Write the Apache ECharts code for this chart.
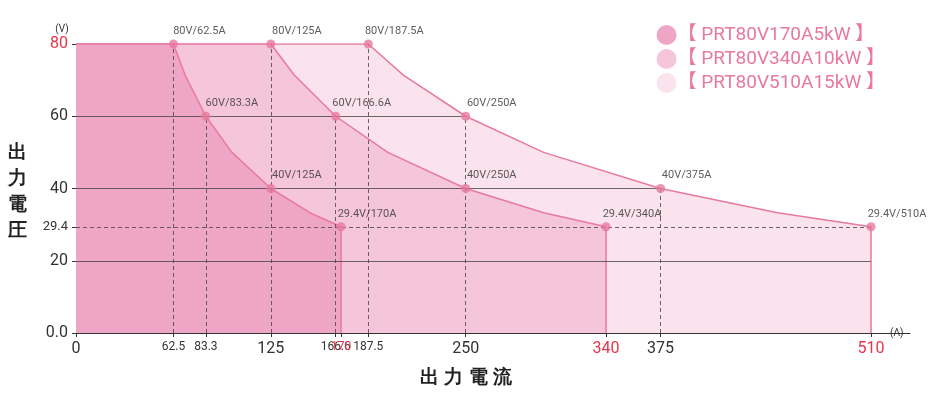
<!DOCTYPE html>
<html>
<meta charset="utf-8" />
<head>
  <script src="https://cdn.jsdelivr.net/npm/echarts@6/dist/echarts.min.js"></script>
  <style>
    body { margin: 0; background: #fff; }
    .chart { width: 940px; height: 400px; }
  </style>
</head>
<body>
  <div class="chart" id="chart"></div>
  <script>
    // envelope of each model: [current A, voltage V]
    const curve5kW = [[0, 80], [62.5, 80], [70, 71.4], [83.3, 60], [100, 50], [125, 40], [150, 33.3], [170, 29.4], [170, 0]];
    const curve10kW = [[0, 80], [125, 80], [140, 71.4], [166.6, 60], [200, 50], [250, 40], [300, 33.3], [340, 29.4], [340, 0]];
    const curve15kW = [[0, 80], [187.5, 80], [210, 71.4], [250, 60], [300, 50], [375, 40], [450, 33.3], [510, 29.4], [510, 0]];
    const seriesNames = ["【 PRT80V170A5kW 】", "【 PRT80V340A10kW 】", "【 PRT80V510A15kW 】"];
    const points = [
      [62.5, 80, "80V/62.5A"], [125, 80, "80V/125A"], [187.5, 80, "80V/187.5A"],
      [83.3, 60, "60V/83.3A"], [166.6, 60, "60V/166.6A"], [250, 60, "60V/250A"],
      [125, 40, "40V/125A"], [250, 40, "40V/250A"], [375, 40, "40V/375A"],
      [170, 29.4, "29.4V/170A"], [340, 29.4, "29.4V/340A"], [510, 29.4, "29.4V/510A"]
    ];
    const xTicks = [0, 62.5, 83.3, 125, 166.6, 170, 187.5, 250, 340, 375, 510];
    const xRedTicks = [170, 340, 510];
    const xBigTicks = [0, 125, 250, 340, 375, 510];
    const yTicks = [0, 20, 29.4, 40, 60, 80];
    // grid lines: [x end, y]
    const hSolid = [[250, 60], [375, 40], [510, 20]];
    const hDashed = [[510, 29.4]];
    // drop lines: [x, y top]
    const vDashed = [[62.5, 80], [83.3, 60], [125, 80], [166.6, 60], [187.5, 80], [250, 60], [375, 40]];

    const pink = "#e8799f";
    const fills = ["#efa6c6", "#f5c5da", "#fae3ec"];
    const curves = [curve5kW, curve10kW, curve15kW];

    const myChart = echarts.init(document.getElementById("chart"));
    const series = [];
    for (let i = 2; i >= 0; i--) {
      series.push({
        name: seriesNames[i],
        type: "line",
        data: curves[i],
        symbol: "none",
        lineStyle: { color: pink, width: 1.5 },
        itemStyle: { color: fills[i] },
        areaStyle: { color: fills[i], opacity: 1 },
        z: 2 + (2 - i)
      });
    }
    const mlData = [];
    hSolid.forEach(([x, y]) => mlData.push([{ coord: [0, y] }, { coord: [x, y] }]));
    hDashed.forEach(([x, y]) => mlData.push([{ coord: [0, y], lineStyle: { type: [4, 3] } }, { coord: [x, y] }]));
    vDashed.forEach(([x, y]) => mlData.push([{ coord: [x, 0], lineStyle: { type: [4, 3] } }, { coord: [x, y] }]));
    series.push({
      type: "scatter",
      data: points.map((p) => ({ value: [p[0], p[1]], name: p[2] })),
      symbolSize: 9,
      itemStyle: { color: pink },
      label: {
        show: true, position: "top", offset: [26, 2], formatter: "{b}",
        color: "#333", fontSize: 11
      },
      markLine: {
        silent: true, symbol: "none",
        lineStyle: { color: "#444", width: 0.8, type: "solid" },
        label: { show: false },
        data: mlData
      },
      z: 10
    });

    const option = {
      textStyle: { fontFamily: "Roboto, 'Noto Sans CJK JP'" },
      legend: {
        data: seriesNames.map((n) => ({ name: n, icon: "circle" })),
        orient: "vertical", right: 50, top: 20, itemGap: 4,
        itemWidth: 20, itemHeight: 20,
        textStyle: { color: pink, fontSize: 19, padding: [0, 0, 0, -4] },
        selectedMode: false
      },
      grid: { left: 76, right: 30, top: 44, bottom: 67 },
      xAxis: {
        type: "value", min: 0, max: 535,
        name: "(A)", nameLocation: "end", nameGap: -20,
        nameTextStyle: { fontSize: 10, color: "#333", padding: [26, 0, 0, 0] },
        splitLine: { show: false },
        axisLine: { lineStyle: { color: "#333" } },
        axisTick: { customValues: xTicks, length: 4, lineStyle: { color: "#333" } },
        axisLabel: {
          customValues: xTicks,
          formatter: (v) => {
            const s = v === 0 ? "0" : String(v);
            if (xRedTicks.includes(v)) return xBigTicks.includes(v) ? "{rb|" + s + "}" : "{rs|" + s + "}";
            return xBigTicks.includes(v) ? "{b|" + s + "}" : "{s|" + s + "}";
          },
          rich: {
            b: { fontSize: 16, color: "#333" },
            s: { fontSize: 12, color: "#333" },
            rb: { fontSize: 16, color: "#e8334a" },
            rs: { fontSize: 12, color: "#e8334a" }
          }
        }
      },
      yAxis: {
        type: "value", min: 0, max: 80,
        name: "(V)", nameGap: 10,
        nameTextStyle: { fontSize: 10, color: "#333", padding: [0, 0, 0, -28] },
        splitLine: { show: false },
        axisLine: { show: true, lineStyle: { color: "#333" } },
        axisTick: { show: true, customValues: yTicks, length: 4, lineStyle: { color: "#333" } },
        axisLabel: {
          customValues: yTicks,
          formatter: (v) => v === 0 ? "{b|0.0}" : v === 80 ? "{r|80}" : v === 29.4 ? "{s|29.4}" : "{b|" + v + "}",
          rich: {
            b: { fontSize: 16, color: "#333" },
            s: { fontSize: 13, color: "#333" },
            r: { fontSize: 16, color: "#e8334a" }
          }
        }
      },
      graphic: [
        { type: "text", left: 8, top: 140, style: { text: "出\n力\n電\n圧", fontSize: 19, fontWeight: "bold", lineHeight: 26, fill: "#222" } },
        { type: "text", left: 420, top: 368, style: { text: "出 力 電 流", fontSize: 19, fontWeight: "bold", fill: "#222" } }
      ],
      series
    };
    myChart.setOption(option);
  </script>
</body>
</html>
